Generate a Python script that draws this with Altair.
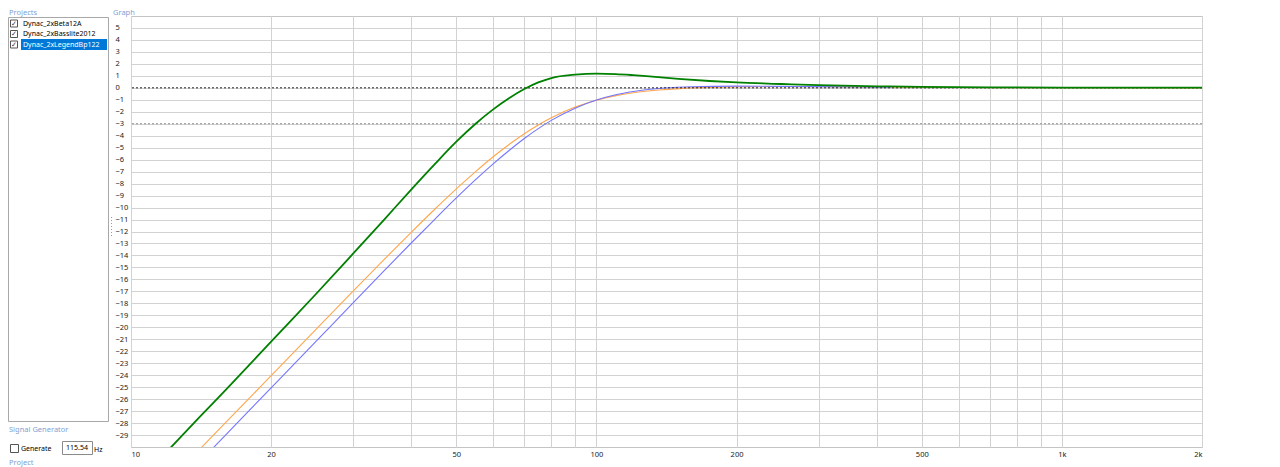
import altair as alt
import pandas as pd

# ---------------- data ----------------
SERIES = ["Dynac_2xBeta12A", "Dynac_2xBasslite2012", "Dynac_2xLegendBp122"]
COLORS = ["#ffa64d", "#7575ff", "#008000"]

FREQ_ORANGE = [14, 16, 18, 20, 25, 30, 35, 40, 45, 50, 55, 60, 65, 70, 75, 80, 90, 100,
               110, 120, 140, 160, 200, 250, 300, 400, 500, 1000, 2000]
DB_ORANGE = [-30.25, -27.93, -25.88, -24.04, -20.15, -16.99, -14.33, -12.07, -10.12, -8.44,
             -7.0, -5.76, -4.71, -3.83, -3.1, -2.5, -1.61, -1.03, -0.65, -0.41, -0.15, 0.0,
             0.08, 0.1, 0.1, 0.06, 0.04, 0.01, 0.0]

FREQ_BLUE = [15, 16, 18, 20, 25, 30, 35, 40, 45, 50, 55, 60, 65, 70, 75, 80, 90, 100,
             110, 120, 140, 160, 200, 250, 300, 400, 430]
DB_BLUE = [-30.09, -28.96, -26.9, -25.06, -21.16, -17.96, -15.27, -12.96, -10.96, -9.2,
           -7.67, -6.35, -5.21, -4.23, -3.41, -2.72, -1.7, -1.02, -0.58, -0.31, -0.02, 0.09,
           0.14, 0.12, 0.1, 0.06, 0.05]

FREQ_GREEN = [12, 14, 16, 18, 20, 25, 30, 35, 40, 45, 50, 55, 60, 65, 70, 75, 80, 90, 100,
              110, 120, 130, 150, 175, 200, 250, 300, 400, 500, 700, 1000, 2000]
DB_GREEN = [-30.3, -27.55, -25.2, -23.1, -21.2, -17.2, -13.85, -11.0, -8.5, -6.35, -4.5,
            -3.0, -1.8, -0.85, -0.1, 0.45, 0.82, 1.1, 1.19, 1.15, 1.06, 0.96, 0.75, 0.57,
            0.45, 0.32, 0.22, 0.13, 0.08, 0.04, 0.02, 0.01]

X_GRID = [10, 20, 30, 40, 50, 60, 70, 80, 90, 100, 200, 300, 400, 500, 600, 700, 800, 900,
          1000, 2000]
X_LABELED = [10, 20, 50, 100, 200, 500, 1000, 2000]
X_LABELS = ["10", "20", "50", "100", "200", "500", "1k", "2k"]
Y_TICKS = list(range(-29, 6))
REF_LEVELS = [0, -3]

PROJECTS = SERIES
FREQ_VALUE = "115.54"

# ---------------- build ----------------
FONT = "Noto Sans"
frames = []
for name, fr, db in [(SERIES[0], FREQ_ORANGE, DB_ORANGE),
                     (SERIES[1], FREQ_BLUE, DB_BLUE),
                     (SERIES[2], FREQ_GREEN, DB_GREEN)]:
    frames.append(pd.DataFrame({"freq": fr, "db": db, "series": name}))
df = pd.concat(frames, ignore_index=True)

label_map = ", ".join(f"'{v}': '{t}'" for v, t in zip(X_LABELED, X_LABELS))
label_expr = f"({{{label_map}}})[''+datum.value] || ''"

X_AXIS = alt.Axis(values=X_GRID, labelExpr=label_expr, title=None, ticks=False,
                  tickSize=0, domain=False, labelFlush=True, labelPadding=3,
                  labelOverlap=False, labelFont=FONT, labelFontSize=7.5,
                  labelColor="#222222", gridColor="#d2d2d2", gridWidth=1)
Y_AXIS = alt.Axis(values=Y_TICKS, title=None, ticks=False, tickSize=0, domain=False,
                  labelAlign="left", labelBaseline="middle", labelPadding=16,
                  labelOverlap=False, labelFont=FONT, labelFontSize=7.5,
                  labelColor="#222222", gridColor="#d2d2d2", gridWidth=1)
YSCALE = alt.Scale(domain=[-30, 6], nice=False)

xenc = alt.X("freq:Q", scale=alt.Scale(type="log", domain=[10, 2000], nice=False), axis=X_AXIS)
yenc = alt.Y("db:Q", scale=YSCALE, axis=Y_AXIS)

color = alt.Color("series:N", scale=alt.Scale(domain=SERIES, range=COLORS), legend=None)

def curve(name, width):
    return alt.Chart(df).transform_filter(alt.datum.series == name).mark_line(
        strokeWidth=width, clip=True, interpolate="monotone").encode(x=xenc, y=yenc, color=color)

yref = alt.Y("level:Q", scale=YSCALE, axis=Y_AXIS)
ref_df = pd.DataFrame({"level": REF_LEVELS})
ref0 = alt.Chart(ref_df).transform_filter(alt.datum.level == 0).mark_rule(
    color="#222222", strokeDash=[2, 2], strokeWidth=1).encode(y=yref)
ref3 = alt.Chart(ref_df).transform_filter(alt.datum.level == -3).mark_rule(
    color="#8c8c8c", strokeDash=[2, 2], strokeWidth=1).encode(y=yref)

# ---------------- UI chrome around the plot ----------------
PX0, PY0 = 131, 16
one = alt.InlineData(values=[{"k": 1}])
HEAD = "#7f9fd4"

def ui_text(txt, x, y, color="#000000", size=7.5, align="left", font=FONT):
    return alt.Chart(one).mark_text(text=txt, align=align, baseline="middle", font=font,
                                    fontSize=size, color=color).encode(
        x=alt.value(x - PX0), y=alt.value(y - PY0))

def ui_rect(x1, y1, x2, y2, fill, stroke=None):
    kw = dict(fill=fill)
    if stroke:
        kw.update(stroke=stroke, strokeWidth=1)
    return alt.Chart(one).mark_rect(**kw).encode(
        x=alt.value(x1 - PX0), x2=alt.value(x2 - PX0),
        y=alt.value(y1 - PY0), y2=alt.value(y2 - PY0))

ui = [
    ui_text("Projects", 9, 13, HEAD),
    ui_text("Graph", 113, 13, HEAD),
    ui_rect(8.5, 17.5, 108.5, 421.5, "#ffffff", "#a8a8a8"),
    ui_rect(21, 39, 107, 50, "#0078d7"),
]
row_y = [23.5, 34, 44.5]
for i, (name, ry) in enumerate(zip(PROJECTS, row_y)):
    ui.append(ui_rect(10.5, ry - 3.5, 17.5, ry + 3.5, "#ffffff", "#555555"))
    ui.append(ui_text("\u2713", 11, ry, "#333333", 7, font="DejaVu Sans"))
    ui.append(ui_text(name, 23, ry, "#ffffff" if i == 2 else "#000000", size=7))
ui += [
    ui_text("Signal Generator", 9, 429.5, HEAD),
    ui_rect(10.5, 444.5, 18.5, 452.5, "#ffffff", "#555555"),
    ui_text("Generate", 21, 448.5, size=7),
    ui_rect(62.5, 441.5, 92.5, 454.5, "#ffffff", "#8a8a8a"),
    ui_text(FREQ_VALUE, 77, 448, align="center", size=7),
    ui_text("Hz", 94, 449.5, size=7),
    ui_text("Project", 9, 462.5, HEAD),
    alt.Chart(one).mark_rule(color="#9a9a9a", strokeDash=[1, 2], strokeWidth=1).encode(
        x=alt.value(111.5 - PX0), y=alt.value(217 - PY0), y2=alt.value(236 - PY0)),
]

chart = alt.layer(
    curve(SERIES[0], 1.1),
    curve(SERIES[1], 1.1),
    ref3, ref0,
    curve(SERIES[2], 1.8),
    *ui,
).properties(
    width=1071, height=431,
    padding={"left": 123, "top": 8, "right": 70, "bottom": 20},
    autosize=alt.AutoSizeParams(type="none"),
    background="#ffffff",
).configure_view(stroke="#c4c4c4", strokeWidth=1)

chart.save("out.html", embed_options={"renderer": "svg", "actions": False})
